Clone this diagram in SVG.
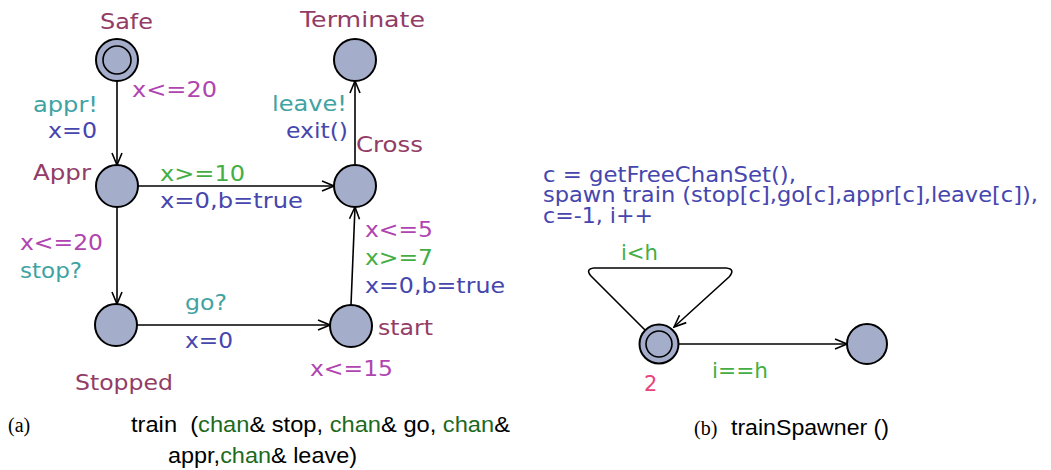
<svg xmlns="http://www.w3.org/2000/svg" width="1051" height="470" viewBox="0 0 1051 470">
<style>
.loc{fill:#a4adca;stroke:#000;stroke-width:2}
.in{fill:none;stroke:#000;stroke-width:1.6}
.t{font-family:"DejaVu Sans",sans-serif;font-size:21px}
.name{fill:#923c66}
.inv{fill:#b044b0}
.syn{fill:#3fa3a3}
.upd{fill:#4646ae}
.grd{fill:#44ae44}
.e{fill:none;stroke:#000;stroke-width:1.6;marker-end:url(#ah)}
.cap{font-family:"Liberation Sans",Arial,sans-serif;font-size:22px;fill:#000}
.tim{font-family:"Liberation Serif","Times New Roman",serif;font-size:20px;fill:#000}
.ch{fill:#1c6a1c}
</style>
<defs>
<marker id="ah" markerWidth="14" markerHeight="12" refX="13" refY="6" orient="auto" markerUnits="userSpaceOnUse">
<path d="M1,1 L13,6 L1,11" fill="none" stroke="#000" stroke-width="1.6"/>
</marker>
</defs>
<g id="connectors">
<line class="e" x1="117" y1="81" x2="117" y2="165"/>
<line class="e" x1="138" y1="186" x2="334" y2="186"/>
<line class="e" x1="117" y1="207" x2="117" y2="304"/>
<line class="e" x1="137" y1="325" x2="330" y2="325"/>
<line class="e" x1="351" y1="305" x2="355" y2="207"/>
<line class="e" x1="355" y1="165" x2="355" y2="81"/>
<path class="e" d="M645,330 L591,276 Q585,269 594,268 L726,268 Q736,269 729,277 L674,327"/>
<line class="e" x1="679" y1="344" x2="847" y2="344"/>
</g>
<g id="Safe">
<circle class="loc" cx="117" cy="60" r="21"/>
<circle class="in" cx="117" cy="60" r="14"/>
<text class="t name" x="100" y="29" textLength="53" lengthAdjust="spacingAndGlyphs">Safe</text>
<text class="t inv" x="132" y="97" textLength="85" lengthAdjust="spacingAndGlyphs">x&lt;=20</text>
</g>
<g id="Terminate">
<circle class="loc" cx="355" cy="60" r="21"/>
<text class="t name" x="300" y="27" textLength="125" lengthAdjust="spacingAndGlyphs">Terminate</text>
</g>
<g id="Appr">
<circle class="loc" cx="117" cy="186" r="21"/>
<text class="t name" x="33" y="180" textLength="58" lengthAdjust="spacingAndGlyphs">Appr</text>
<text class="t inv" x="20" y="250" textLength="83" lengthAdjust="spacingAndGlyphs">x&lt;=20</text>
</g>
<g id="Cross">
<circle class="loc" cx="355" cy="186" r="21"/>
<text class="t name" x="356" y="152" textLength="67" lengthAdjust="spacingAndGlyphs">Cross</text>
<text class="t inv" x="365" y="237" textLength="68" lengthAdjust="spacingAndGlyphs">x&lt;=5</text>
</g>
<g id="Stopped">
<circle class="loc" cx="116" cy="325" r="21"/>
<text class="t name" x="75" y="390" textLength="98" lengthAdjust="spacingAndGlyphs">Stopped</text>
</g>
<g id="start">
<circle class="loc" cx="351" cy="326" r="21"/>
<text class="t name" x="378" y="335" textLength="55" lengthAdjust="spacingAndGlyphs">start</text>
<text class="t inv" x="310" y="376" textLength="83" lengthAdjust="spacingAndGlyphs">x&lt;=15</text>
</g>
<g id="labels-a">
<text class="t syn" x="33" y="112" textLength="65" lengthAdjust="spacingAndGlyphs">appr!</text>
<text class="t upd" x="48" y="138" textLength="49" lengthAdjust="spacingAndGlyphs">x=0</text>
<text class="t grd" x="160" y="181" textLength="85" lengthAdjust="spacingAndGlyphs">x&gt;=10</text>
<text class="t upd" x="160" y="208" textLength="143" lengthAdjust="spacingAndGlyphs">x=0,b=true</text>
<text class="t syn" x="272" y="111" textLength="75" lengthAdjust="spacingAndGlyphs">leave!</text>
<text class="t upd" x="286" y="138" textLength="62" lengthAdjust="spacingAndGlyphs">exit()</text>
<text class="t syn" x="20" y="278" textLength="62" lengthAdjust="spacingAndGlyphs">stop?</text>
<text class="t syn" x="185" y="310" textLength="42" lengthAdjust="spacingAndGlyphs">go?</text>
<text class="t upd" x="185" y="348" textLength="48" lengthAdjust="spacingAndGlyphs">x=0</text>
<text class="t grd" x="365" y="265" textLength="68" lengthAdjust="spacingAndGlyphs">x&gt;=7</text>
<text class="t upd" x="365" y="293" textLength="140" lengthAdjust="spacingAndGlyphs">x=0,b=true</text>
</g>
<g id="caption-a">
<text class="tim" x="8" y="432">(a)</text>
<text class="cap" x="131" y="432" textLength="379" lengthAdjust="spacingAndGlyphs" xml:space="preserve">train  (<tspan class="ch">chan</tspan>&amp; stop, <tspan class="ch">chan</tspan>&amp; go, <tspan class="ch">chan</tspan>&amp;</text>
<text class="cap" x="168" y="463" textLength="189" lengthAdjust="spacingAndGlyphs">appr,<tspan class="ch">chan</tspan>&amp; leave)</text>
</g>
<g id="SpawnInit">
<circle class="loc" cx="659" cy="344" r="19.5"/>
<circle class="in" cx="659" cy="344" r="13"/>
<text class="t" x="644" y="391" fill="#e8437a">2</text>
</g>
<g id="SpawnEnd">
<circle class="loc" cx="867" cy="344" r="20"/>
</g>
<g id="labels-b">
<text class="t upd" x="543" y="182" font-size="19" textLength="253" lengthAdjust="spacingAndGlyphs">c = getFreeChanSet(),</text>
<text class="t upd" x="543" y="202" font-size="19" textLength="495" lengthAdjust="spacingAndGlyphs">spawn train (stop[c],go[c],appr[c],leave[c]),</text>
<text class="t upd" x="543" y="223" font-size="19" textLength="110" lengthAdjust="spacingAndGlyphs">c=-1, i++</text>
<text class="t grd" x="621" y="260" textLength="37" lengthAdjust="spacingAndGlyphs">i&lt;h</text>
<text class="t grd" x="712" y="378" textLength="56" lengthAdjust="spacingAndGlyphs">i==h</text>
</g>
<g id="caption-b">
<text class="tim" x="694" y="435">(b)</text>
<text class="cap" x="731" y="435" textLength="158" lengthAdjust="spacingAndGlyphs">trainSpawner ()</text>
</g>
</svg>
